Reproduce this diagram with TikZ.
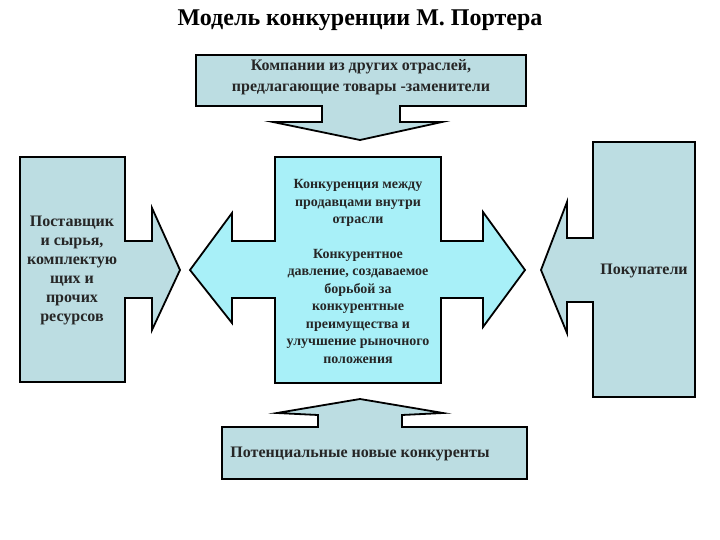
\documentclass[tikz,border=0pt]{standalone}
\usepackage{fontspec}
\setmainfont{Liberation Serif}
\definecolor{boxc}{HTML}{BCDDE2}
\definecolor{cenc}{HTML}{A8F0F8}
\begin{document}
\begin{tikzpicture}[x=1pt,y=-1pt,
  shp/.style={draw=black,line width=1.8pt,line join=miter},
  lbl/.style={font=\bfseries\fontsize{16}{21}\selectfont,align=center,text=black!85}]
\useasboundingbox (0,0) rectangle (720,540);
\node[font=\bfseries\fontsize{24}{28}\selectfont] (title) at (360,20) {Модель конкуренции М. Портера};
% top
\draw[shp,fill=boxc] (196,55) -- (526,55) -- (526,106) -- (400,106) -- (400,122) -- (442,122) -- (360,140) -- (273,122) -- (322,122) -- (322,106) -- (196,106) -- cycle;
\node[lbl] (top) at (361,77) {Компании из других отраслей,\\предлагающие товары -заменители};
% left
\draw[shp,fill=boxc] (20,157) -- (125,157) -- (125,241) -- (152,241) -- (152,208) -- (180,270) -- (152,330) -- (152,298) -- (125,298) -- (125,382) -- (20,382) -- cycle;
\node[lbl,font=\bfseries\fontsize{16}{19}\selectfont] (left) at (72,270) {Поставщик\\и сырья,\\комплектую\\щих и\\прочих\\ресурсов};
% center
\draw[shp,fill=cenc] (275,157) -- (441,157) -- (441,241) -- (483,241) -- (483,212) -- (525,270) -- (483,327) -- (483,298) -- (441,298) -- (441,383) -- (275,383) -- (275,298) -- (232,298) -- (232,323) -- (190,270) -- (232,213) -- (232,241) -- (275,241) -- cycle;
\node[lbl,font=\bfseries\fontsize{14}{17.5}\selectfont] (c1) at (358,203) {Конкуренция между\\продавцами внутри\\отрасли};
\node[lbl,font=\bfseries\fontsize{14}{17.5}\selectfont] (c2) at (358,306) {Конкурентное\\давление, создаваемое\\борьбой за\\конкурентные\\преимущества и\\улучшение рыночного\\положения};
% right
\draw[shp,fill=boxc] (593,142) -- (695,142) -- (695,397) -- (593,397) -- (593,302) -- (567,302) -- (567,333) -- (541,270) -- (567,202) -- (567,238) -- (593,238) -- cycle;
\node[lbl] (right) at (644,271) {Покупатели};
% bottom
\draw[shp,fill=boxc] (222,427) -- (318,427) -- (318,415) -- (277,413) -- (360,399) -- (443,413) -- (402,415) -- (402,427) -- (527,427) -- (527,479) -- (222,479) -- cycle;
\node[lbl] (bot) at (360,454) {Потенциальные новые конкуренты};
\end{tikzpicture}
\end{document}
